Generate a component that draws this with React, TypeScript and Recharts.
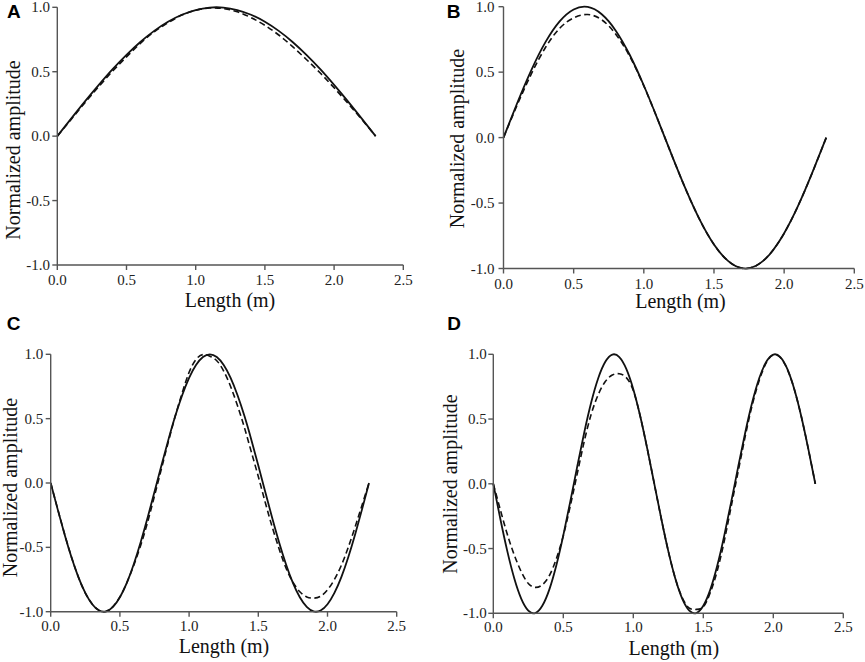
import { Label, Line, LineChart, XAxis, YAxis } from 'recharts';

// positions along the beam, m
const lengthCoarse = [
  0, 0.1, 0.2, 0.3, 0.4, 0.5, 0.6, 0.7, 0.8, 0.9, 1.0, 1.1, 1.2, 1.3, 1.4, 1.5,
  1.6, 1.7, 1.8, 1.9, 2.0, 2.1, 2.2, 2.3,
];
const lengthFine = [
  0, 0.05, 0.1, 0.15, 0.2, 0.25, 0.3, 0.35, 0.4, 0.45, 0.5, 0.55, 0.6, 0.65, 0.7,
  0.75, 0.8, 0.85, 0.9, 0.95, 1.0, 1.05, 1.1, 1.15, 1.2, 1.25, 1.3, 1.35, 1.4,
  1.45, 1.5, 1.55, 1.6, 1.65, 1.7, 1.75, 1.8, 1.85, 1.9, 1.95, 2.0, 2.05, 2.1,
  2.15, 2.2, 2.25, 2.3,
];

// A
const solidA = [
  0, 0.136, 0.27, 0.398, 0.52, 0.631, 0.731, 0.817, 0.888, 0.942, 0.979, 0.998,
  0.998, 0.979, 0.942, 0.888, 0.817, 0.731, 0.631, 0.52, 0.398, 0.27, 0.136, 0,
];
const dashedA = [
  0, 0.13, 0.26, 0.385, 0.505, 0.615, 0.72, 0.81, 0.88, 0.94, 0.977, 0.995,
  0.99, 0.965, 0.92, 0.86, 0.785, 0.695, 0.595, 0.49, 0.375, 0.255, 0.13, 0,
];

// B
const solidB = [
  0, 0.27, 0.52, 0.731, 0.888, 0.979, 0.998, 0.942, 0.817, 0.631, 0.398, 0.136,
  -0.136, -0.398, -0.631, -0.817, -0.942, -0.998, -0.979, -0.888, -0.731, -0.52,
  -0.27, 0,
];
const dashedB = [
  0, 0.255, 0.49, 0.69, 0.835, 0.915, 0.94, 0.9, 0.79, 0.62, 0.395, 0.136,
  -0.136, -0.398, -0.631, -0.817, -0.942, -0.998, -0.979, -0.888, -0.731, -0.52,
  -0.27, 0,
];

// C
const solidC = [
  0, -0.203, -0.398, -0.577, -0.731, -0.854, -0.942, -0.991, -0.998, -0.963,
  -0.888, -0.776, -0.631, -0.46, -0.27, -0.068, 0.136, 0.335, 0.52, 0.682, 0.817,
  0.917, 0.979, 1.0, 0.979, 0.917, 0.817, 0.682, 0.52, 0.335, 0.136, -0.068,
  -0.27, -0.46, -0.631, -0.776, -0.888, -0.963, -0.998, -0.991, -0.942, -0.854,
  -0.731, -0.577, -0.398, -0.203, 0,
];
const dashedC = [
  0, -0.2, -0.395, -0.575, -0.73, -0.855, -0.94, -0.99, -0.998, -0.96, -0.885,
  -0.775, -0.64, -0.485, -0.305, -0.1, 0.11, 0.32, 0.52, 0.7, 0.86, 0.96, 0.998,
  0.985, 0.95, 0.87, 0.75, 0.6, 0.43, 0.24, 0.05, -0.15, -0.34, -0.51, -0.66,
  -0.77, -0.845, -0.885, -0.895, -0.88, -0.83, -0.75, -0.64, -0.5, -0.34, -0.17,
  0,
];

// D
const solidD = [
  0, -0.27, -0.52, -0.731, -0.888, -0.979, -0.998, -0.942, -0.817, -0.631,
  -0.398, -0.136, 0.136, 0.398, 0.631, 0.817, 0.942, 0.998, 0.979, 0.888, 0.731,
  0.52, 0.27, 0, -0.27, -0.52, -0.731, -0.888, -0.979, -0.998, -0.942, -0.817,
  -0.631, -0.398, -0.136, 0.136, 0.398, 0.631, 0.817, 0.942, 0.998, 0.979, 0.888,
  0.731, 0.52, 0.27, 0,
];
const dashedD = [
  0, -0.2, -0.39, -0.55, -0.68, -0.77, -0.8, -0.78, -0.71, -0.58, -0.4, -0.17,
  0.08, 0.33, 0.54, 0.69, 0.79, 0.84, 0.85, 0.82, 0.72, 0.52, 0.27, 0, -0.27,
  -0.52, -0.73, -0.88, -0.96, -0.97, -0.95, -0.84, -0.67, -0.44, -0.17, 0.1,
  0.37, 0.61, 0.8, 0.935, 0.995, 0.975, 0.885, 0.73, 0.52, 0.27, 0,
];

const xTicks = [0, 0.5, 1.0, 1.5, 2.0, 2.5];
const yTicks = [-1.0, -0.5, 0, 0.5, 1.0];
const xTitle = 'Length (m)';
const yTitle = 'Normalized amplitude';

const AXIS = '#555';
const INK = '#111';
const SERIF = '"Liberation Serif", "Times New Roman", serif';

const tickText = { fontFamily: SERIF, fontSize: 15, fill: '#222' };
const titleText = { fontFamily: SERIF, fontSize: 20, fill: '#111' };

const rows = (xs: number[], solid: number[], dashed: number[]) =>
  xs.map((x, i) => ({ x, solid: solid[i], dashed: dashed[i] }));

function XTick({ x, y, payload }: any) {
  return (
    <text x={x} y={y} dy="0.71em" textAnchor="middle" style={tickText}>
      {Number(payload.value).toFixed(1)}
    </text>
  );
}

function YTick({ x, y, payload }: any) {
  return (
    <text x={x} y={y} dy="0.34em" textAnchor="end" style={tickText}>
      {Number(payload.value).toFixed(1)}
    </text>
  );
}

type PanelProps = {
  data: { x: number; solid: number; dashed: number }[];
  left: number;
  top: number;
  width: number;
  height: number;
  plot: [number, number, number, number]; // left, top, right, bottom
  xGap: number;
  yGap: number;
  yTitleAt: [number, number];
  xTitleAt: [number, number];
};

function Panel({ data, left, top, width, height, plot, xGap, yGap, yTitleAt, xTitleAt }: PanelProps) {
  const [pl, pt, pr, pb] = plot;
  const yx = yTitleAt[0] - left;
  const yy = yTitleAt[1] - top;

  return (
    <div style={{ position: 'absolute', left, top, fontFamily: SERIF }}>
      <LineChart
        width={width}
        height={height}
        data={data}
        margin={{ top: pt - top, right: left + width - pr, bottom: 0, left: 0 }}
      >
        <XAxis
          dataKey="x"
          type="number"
          domain={[0, 2.5]}
          ticks={xTicks}
          interval={0}
          height={top + height - pb}
          tickSize={5}
          tickMargin={xGap}
          tick={<XTick />}
          stroke={AXIS}
          strokeWidth={1.4}
        >
          <Label
            content={() => (
              <text
                x={xTitleAt[0] - left}
                y={xTitleAt[1] - top}
                textAnchor="middle"
                style={titleText}
              >
                {xTitle}
              </text>
            )}
          />
        </XAxis>
        <YAxis
          type="number"
          domain={[-1, 1]}
          ticks={yTicks}
          interval={0}
          width={pl - left}
          tickSize={5}
          tickMargin={yGap}
          tick={<YTick />}
          stroke={AXIS}
          strokeWidth={1.4}
        >
          <Label
            content={() => (
              <text
                x={yx}
                y={yy}
                dy="0.34em"
                textAnchor="middle"
                transform={`rotate(-90, ${yx}, ${yy})`}
                style={titleText}
              >
                {yTitle}
              </text>
            )}
          />
        </YAxis>
        {/* top and right edges of the frame */}
        <XAxis
          xAxisId="top"
          orientation="top"
          type="number"
          domain={[0, 2.5]}
          height={0}
          tick={false}
          tickLine={false}
          stroke={AXIS}
          strokeWidth={1.4}
        />
        <YAxis
          yAxisId="right"
          orientation="right"
          type="number"
          domain={[-1, 1]}
          width={0}
          tick={false}
          tickLine={false}
          stroke={AXIS}
          strokeWidth={1.4}
        />
        <Line
          dataKey="dashed"
          type="natural"
          stroke={INK}
          strokeWidth={1.6}
          strokeDasharray="6 3.5"
          dot={false}
          activeDot={false}
          isAnimationActive={false}
        />
        <Line
          dataKey="solid"
          type="natural"
          stroke={INK}
          strokeWidth={1.8}
          dot={false}
          activeDot={false}
          isAnimationActive={false}
        />
      </LineChart>
    </div>
  );
}

const letterStyle = {
  fontFamily: '"Liberation Sans", Arial, sans-serif',
  fontWeight: 700,
  fontSize: 19,
  fill: '#000',
};

export default function App() {
  return (
    <div
      style={{
        position: 'absolute',
        left: 0,
        top: 0,
        width: 865,
        height: 662,
        background: '#fff',
        overflow: 'hidden',
      }}
    >
      <Panel
        data={rows(lengthCoarse, solidA, dashedA)}
        left={0}
        top={0}
        width={430}
        height={330}
        plot={[57.3, 7.3, 403.3, 265]}
        xGap={4.4}
        yGap={2.3}
        yTitleAt={[13.5, 150]}
        xTitleAt={[230, 307]}
      />
      <Panel
        data={rows(lengthCoarse, solidB, dashedB)}
        left={430}
        top={0}
        width={435}
        height={330}
        plot={[503.5, 6.7, 854.3, 268.5]}
        xGap={4.4}
        yGap={4}
        yTitleAt={[457, 138.5]}
        xTitleAt={[680.5, 308]}
      />
      <Panel
        data={rows(lengthFine, solidC, dashedC)}
        left={0}
        top={330}
        width={430}
        height={332}
        plot={[50.7, 354.3, 396.7, 611.7]}
        xGap={3.4}
        yGap={2.4}
        yTitleAt={[10, 487.5]}
        xTitleAt={[224, 652.7]}
      />
      <Panel
        data={rows(lengthFine, solidD, dashedD)}
        left={430}
        top={330}
        width={435}
        height={332}
        plot={[493.3, 354.3, 843.3, 613.3]}
        xGap={2.8}
        yGap={1.6}
        yTitleAt={[450, 484]}
        xTitleAt={[673.8, 655]}
      />
      <svg
        width={865}
        height={662}
        style={{ position: 'absolute', left: 0, top: 0, pointerEvents: 'none' }}
      >
        <text x={7} y={18} style={letterStyle}>A</text>
        <text x={446.7} y={18} style={letterStyle}>B</text>
        <text x={6.7} y={330} style={letterStyle}>C</text>
        <text x={447.3} y={330} style={letterStyle}>D</text>
      </svg>
    </div>
  );
}
